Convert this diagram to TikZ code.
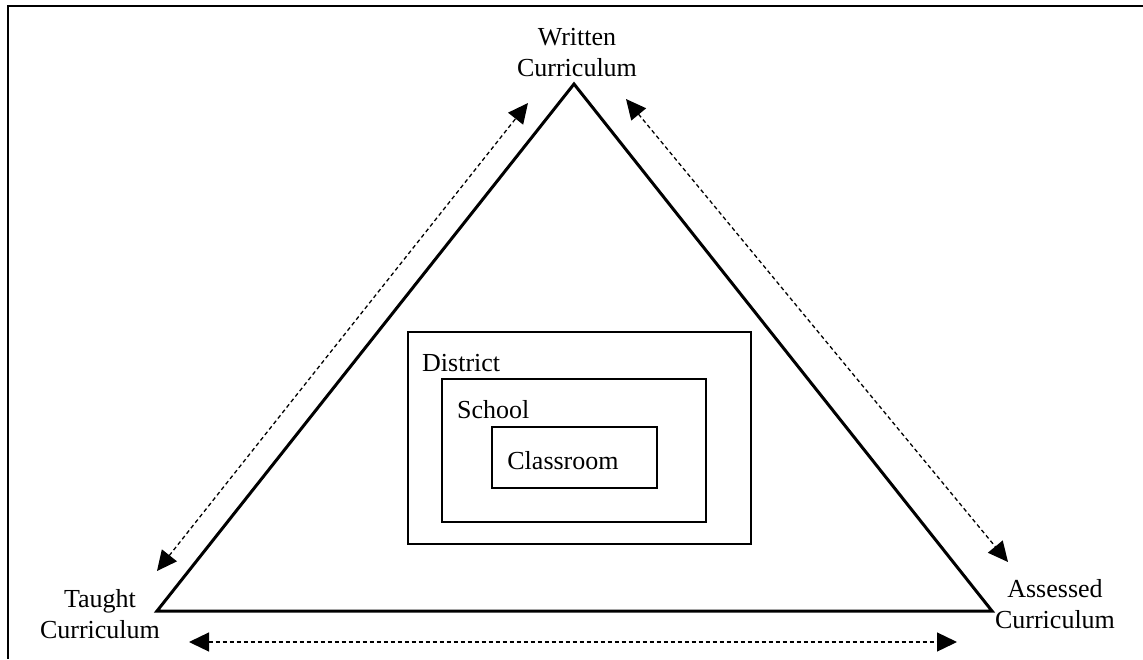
\documentclass[tikz,border=0pt]{standalone}
\usepackage{fontspec}
\setmainfont{Liberation Serif}
\usetikzlibrary{arrows.meta}
\begin{document}
\begin{tikzpicture}[x=1pt,y=-1pt,
  frameline/.style={line width=2.6pt},
  tri/.style={line width=3pt, line join=miter},
  box/.style={draw, line width=2.3pt, rectangle, inner sep=0pt},
  txt/.style={font=\fontsize{26}{31}\selectfont, inner sep=0pt, align=center},
  rel/.style={line width=1.3pt, dash pattern=on 4pt off 3pt,
    {Triangle[length=20pt,width=19pt]}-{Triangle[length=20pt,width=19pt]}}]
\useasboundingbox (0,0) rectangle (1143,659);
% frame (top and left edges only)
\coordinate (fr) at (1143,6);
\coordinate (fc) at (8,6);
\coordinate (fb) at (8,659);
\draw[frameline] (fr) -- (fc) -- (fb);
% triangle
\coordinate (W) at (574,84);
\coordinate (T) at (157,611);
\coordinate (A) at (992,611);
\draw[tri] (W) -- (A) -- (T) -- cycle;
% labels
\node[txt] (written) at (577,53) {Written\\Curriculum};
\node[txt] (taught) at (100,614) {Taught\\Curriculum};
\node[txt] (assessed) at (1055,604.5) {Assessed\\Curriculum};
% relation arrows
\coordinate (l1) at (528,103);
\coordinate (l2) at (157,571);
\coordinate (r1) at (626,99);
\coordinate (r2) at (1008,562);
\coordinate (b1) at (189,642);
\coordinate (b2) at (957,642);
\draw[rel] (l2) -- (l1);
\draw[rel] (r1) -- (r2);
\draw[rel] (b1) -- (b2);
% nested boxes
\node[box, minimum width=343pt, minimum height=212pt] (district) at (579.5,438) {};
\node[box, minimum width=264pt, minimum height=143pt] (school) at (574,450.5) {};
\node[box, minimum width=165pt, minimum height=61pt] (classroom) at (574.5,457.5) {};
\node[txt, anchor=base west] (districtlbl) at (422,371) {District};
\node[txt, anchor=base west] (schoollbl) at (457,418) {School};
\node[txt, anchor=base] (classroomlbl) at (563,469) {Classroom};
\end{tikzpicture}
\end{document}
